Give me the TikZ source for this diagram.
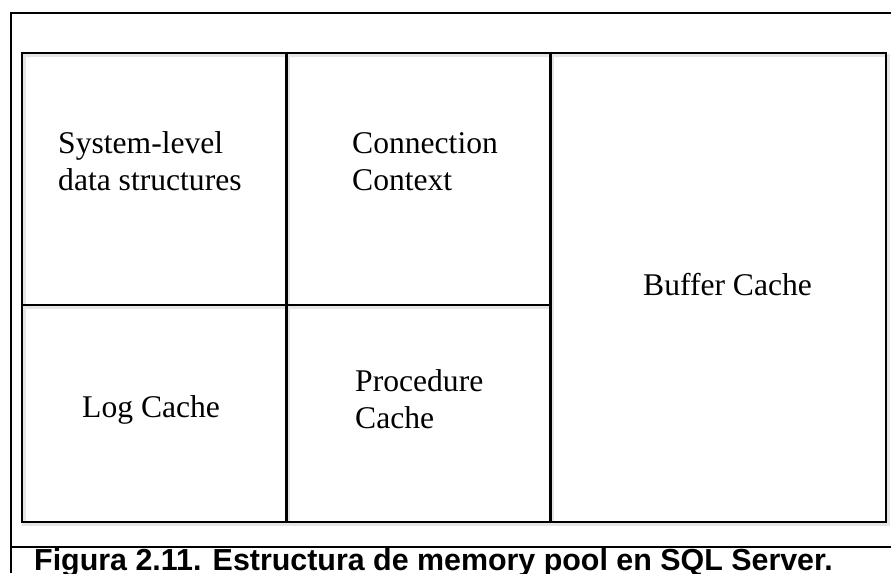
\documentclass[tikz,border=0pt]{standalone}
\usepackage{fontspec}
\setmainfont{Liberation Serif}
\newfontfamily\capfont{Liberation Sans}
\begin{document}
\begin{tikzpicture}[x=1pt,y=-1pt,
  frame/.style={line width=2pt,draw=black},
  cell/.style={line width=2.4pt,draw=black},
  cellshadow/.style={line width=3.5pt,draw=black!10},
  label/.style={inner sep=0pt,anchor=base west,align=left,font=\fontsize{31.6}{37}\selectfont},
  caption/.style={inner sep=0pt,anchor=base west,font=\capfont\bfseries\fontsize{30.4}{34}\selectfont}]
\useasboundingbox (0,0) rectangle (891,573);
% outer frame
\draw[frame] (11,573) -- (11,13) -- (892,13);
\draw[frame] (11,547) -- (892,547);
% shadows
\draw[cellshadow] (24,55.5) rectangle (888,524.5);
\draw[cellshadow] (288.5,55) -- (288.5,526);
\draw[cellshadow] (552.5,55) -- (552.5,524);
\draw[cellshadow] (24,307) -- (552,307);
% inner cells
\draw[cell] (22,53) rectangle (886,522);
\draw[cell] (286.5,53) -- (286.5,522);
\draw[cell] (550.5,53) -- (550.5,522);
\draw[cell] (22,304.7) -- (550.5,304.7);
% labels (base anchor = baseline of the last line)
\node[label] (sys) at (58,190) {System-level\\data structures};
\node[label] (conn) at (352,190) {Connection\\Context};
\node[label] (buf) at (643,295) {Buffer Cache};
\node[label] (log) at (82,417) {Log Cache};
\node[label] (proc) at (355,428.5) {Procedure\\Cache};
\node[caption] (cap) at (34,570.5) {Figura 2.11. Estructura de memory pool en SQL Server.};
\end{tikzpicture}
\end{document}
